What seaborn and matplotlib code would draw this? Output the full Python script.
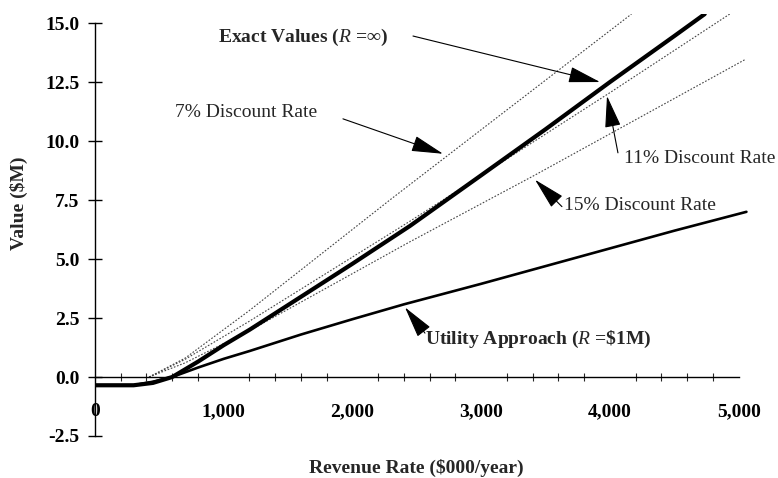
import numpy as np
import pandas as pd
import matplotlib
matplotlib.use('Agg')
import matplotlib.pyplot as plt
import seaborn as sns

# values (revenue rate in $000/year, value in $M)
exact_x = [0, 300, 450, 600, 800, 1000, 1200, 1500, 2000, 2446, 3000, 3500, 4000, 4500, 4736]
exact_y = [-0.35, -0.35, -0.25, 0.0, 0.65, 1.35, 2.0, 3.05, 4.8, 6.4, 8.55, 10.5, 12.5, 14.45, 15.38]

utility_x = [0, 300, 450, 600, 800, 1000, 1200, 1600, 2000, 2400, 3000, 3500, 4000, 4500, 5060]
utility_y = [-0.35, -0.35, -0.2, 0.0, 0.4, 0.77, 1.1, 1.8, 2.45, 3.08, 3.95, 4.7, 5.45, 6.2, 7.0]

rate7_x = [420, 700, 1195, 2290, 4167]
rate7_y = [0.0, 0.8, 2.8, 7.5, 15.38]

rate11_x = [420, 700, 1195, 2446, 4000, 4930]
rate11_y = [0.0, 0.75, 2.35, 6.6, 12.05, 15.38]

rate15_x = [420, 700, 1195, 2446, 3415, 5052]
rate15_y = [0.0, 0.6, 1.95, 5.73, 8.55, 13.46]

x_ticks = [0, 1000, 2000, 3000, 4000, 5000]
x_labels = ['0', '1,000', '2,000', '3,000', '4,000', '5,000']
y_ticks = [-2.5, 0.0, 2.5, 5.0, 7.5, 10.0, 12.5, 15.0]

sns.set_theme(style='white')
plt.rcParams['font.family'] = ['Liberation Serif', 'DejaVu Serif']
plt.rcParams['mathtext.fontset'] = 'custom'
plt.rcParams['mathtext.rm'] = 'Liberation Serif'
plt.rcParams['mathtext.it'] = 'Liberation Serif:italic'

fig = plt.figure(figsize=(7.78, 4.78), dpi=100)
ax = fig.add_axes([95 / 778, 42 / 478, 654 / 778, 422.4 / 478])

# dotted discount-rate lines
for xs, ys in [(rate7_x, rate7_y), (rate11_x, rate11_y), (rate15_x, rate15_y)]:
    sns.lineplot(x=xs, y=ys, ax=ax, color='#444444', lw=0.8,
                 linestyle=(0, (1.5, 1.5)), sort=False, estimator=None)

sns.lineplot(x=utility_x, y=utility_y, ax=ax, color='black', lw=1.9,
             sort=False, estimator=None)
sns.lineplot(x=exact_x, y=exact_y, ax=ax, color='black', lw=3.0,
             sort=False, estimator=None)

ax.set_xlim(0, 5080)
ax.set_ylim(-2.5, 15.4)

# axes: left spine and an x axis through zero
for s in ['top', 'right']:
    ax.spines[s].set_visible(False)
ax.spines['left'].set_bounds(-2.5, 15)
ax.spines['bottom'].set_position(('data', 0))
ax.spines['bottom'].set_bounds(0, 5000)
for s in ['left', 'bottom']:
    ax.spines[s].set_color('black')
    ax.spines[s].set_linewidth(1.0)

ax.set_xticks(x_ticks)
ax.set_xticklabels(x_labels)
ax.set_xticks(np.arange(0, 5001, 200), minor=True)
ax.set_yticks(y_ticks)
ax.set_yticklabels([f'{v:.1f}' for v in y_ticks])
ax.tick_params(axis='x', which='major', direction='inout', length=10, width=1,
               pad=14, labelsize=14, colors='black')
ax.tick_params(axis='x', which='minor', direction='inout', length=6, width=0.8,
               bottom=True)
ax.tick_params(axis='y', direction='inout', length=10, width=1, pad=6,
               labelsize=14, colors='black', left=True)
for lab in ax.get_xticklabels() + ax.get_yticklabels():
    lab.set_fontweight('bold')

ax.set_xlabel('Revenue Rate ($000/year)', fontsize=14, fontweight='bold')
ax.set_ylabel('Value ($M)', fontsize=14, fontweight='bold')
ax.xaxis.set_label_coords(0.492, -0.055)
ax.yaxis.set_label_coords(-0.103, 0.55)

# annotations
arrow = dict(arrowstyle='-|>,head_length=1.0,head_width=0.25', color='black',
             lw=0.8, mutation_scale=20, shrinkA=0, shrinkB=0)
notes = [
    (r'Exact Values ($\mathit{R}$ =∞)', 955, 14.37, 'bold', (2470, 14.45), (3923, 12.5)),
    ('7% Discount Rate', 621, 11.19, 'normal', (1926, 10.94), (2703, 9.46)),
    ('11% Discount Rate', 4109, 9.25, 'normal', (4062, 9.5), (3977, 11.91)),
    ('15% Discount Rate', 3643, 7.27, 'normal', (3627, 7.22), (3418, 8.36)),
    (r'Utility Approach ($\mathit{R}$ =\$1M)', 2563, 1.6, 'bold', (2563, 1.86), (2408, 2.95)),
]
for txt, tx, ty, wt, tail, tip in notes:
    ax.text(tx, ty, txt, fontsize=14, fontweight=wt, ha='left', va='center')
    ax.annotate('', xy=tip, xytext=tail, arrowprops=arrow)

fig.savefig('out.png', dpi=100)
